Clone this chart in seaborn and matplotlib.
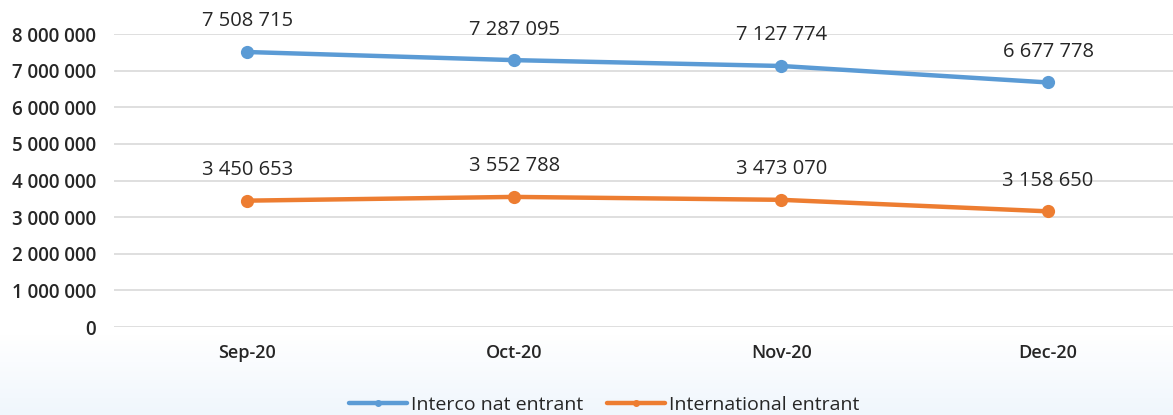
import numpy as np
import pandas as pd
import matplotlib
matplotlib.use("Agg")
import matplotlib.pyplot as plt
import seaborn as sns
from matplotlib.ticker import FuncFormatter

months = ["Sep-20", "Oct-20", "Nov-20", "Dec-20"]
interco = [7508715, 7287095, 7127774, 6677778]
international = [3450653, 3552788, 3473070, 3158650]
series_names = ["Interco nat entrant", "International entrant"]
colors = ["#5b9bd5", "#ed7d31"]

df = pd.DataFrame({
    "month": months * 2,
    "value": interco + international,
    "series": [series_names[0]] * 4 + [series_names[1]] * 4,
})

sns.set_style("white")
plt.rcParams["font.family"] = ["Open Sans", "DejaVu Sans"]


def fmt(v, pos=None):
    return f"{int(v):,}".replace(",", " ")


fig = plt.figure(figsize=(11.73, 4.15), dpi=100)

# light blue gradient at the bottom of the chart area
bg = fig.add_axes([0, 0, 1, 1], zorder=-10)
ramp = np.clip((np.arange(415) - 335) / 80.0, 0, 1)[:, None, None]
top_col = np.array([1.0, 1.0, 1.0])
bot_col = np.array([0.94, 0.965, 0.99])
img = top_col * (1 - ramp) + bot_col * ramp
bg.imshow(img, aspect="auto", extent=[0, 1, 0, 1], origin="upper")
bg.set_axis_off()

ax = fig.add_axes([0.0972, 0.212, 0.91, 0.706])
ax.patch.set_alpha(0)
sns.lineplot(data=df, x="month", y="value", hue="series", palette=colors,
             marker="o", markersize=9.5, markeredgewidth=0, linewidth=3.2,
             sort=False, ax=ax, legend=False)

ax.set_xlim(-0.5, 3.5)
ax.set_ylim(0, 8000000)
ax.set_yticks(np.arange(0, 8000001, 1000000))
ax.yaxis.set_major_formatter(FuncFormatter(fmt))
ax.grid(True, axis="y", color="#d9d9d9", linewidth=1.2)
ax.set_axisbelow(True)
for s in ax.spines.values():
    s.set_visible(False)
ax.tick_params(axis="both", length=0, labelcolor="#262626")
ax.tick_params(axis="y", pad=13, labelsize=13.5)
ax.tick_params(axis="x", pad=12, labelsize=13)
for lab in ax.get_xticklabels() + ax.get_yticklabels():
    lab.set_fontweight("semibold")
ax.set_xlabel("")
ax.set_ylabel("")

for vals in (interco, international):
    for i, v in enumerate(vals):
        ax.annotate(fmt(v), (i, v), xytext=(0, 22), textcoords="offset points",
                    ha="center", va="center", fontsize=14.5, color="#262626",
                    fontweight="medium")

handles = [plt.Line2D([], [], color=c, linewidth=3.2, marker="o", markersize=4)
           for c in colors]
fig.legend(handles, series_names, loc="center", bbox_to_anchor=(0.515, 0.025),
           ncol=2, frameon=False, fontsize=14, handlelength=3.0,
           columnspacing=1.2, handletextpad=0.2)

plt.savefig("out.png", dpi=100)
